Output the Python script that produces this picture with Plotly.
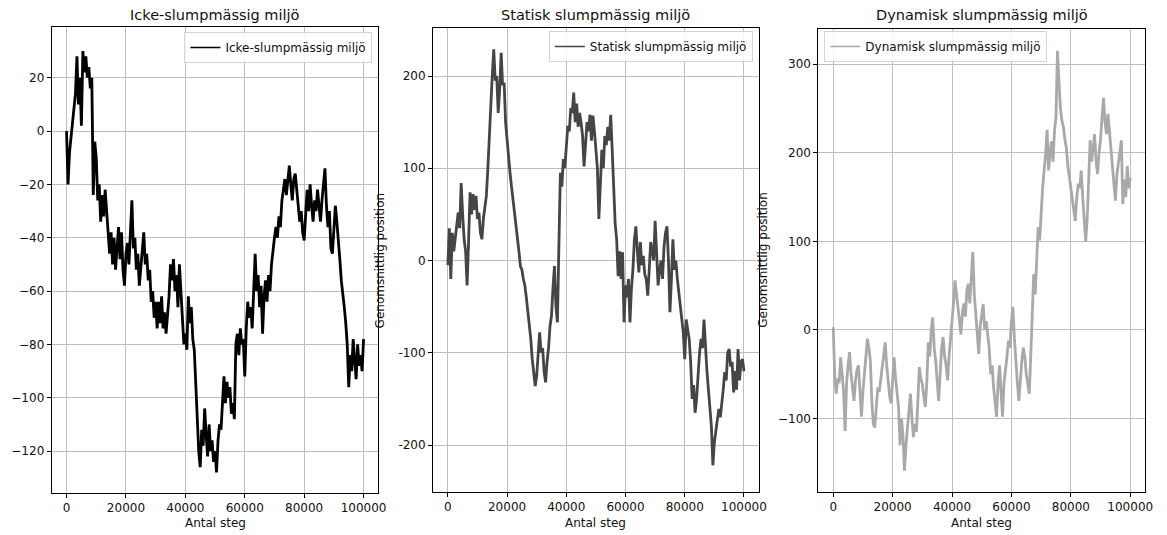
import plotly.graph_objects as go

steps = list(range(0, 100001, 500))

icke = [0, -20, -8, -2, 4, 8, 14, 28, 10, 20, 2, 30, 22, 28, 20, 24, 16, 20, -24, -4,
        -10, -26, -20, -34, -24, -32, -22, -30, -40, -46, -38, -50, -40, -52, -44, -36, -48, -38, -52, -58,
        -46, -42, -50, -34, -26, -44, -40, -52, -46, -58, -50, -44, -38, -50, -46, -56, -52, -64, -60, -70,
        -64, -74, -64, -72, -62, -74, -68, -76, -70, -62, -50, -56, -48, -60, -54, -66, -50, -62, -72, -80,
        -76, -82, -62, -72, -66, -78, -82, -96, -112, -120, -126, -112, -118, -104, -114, -122, -110, -120, -116, -124,
        -120, -128, -116, -110, -112, -104, -92, -102, -94, -100, -96, -106, -102, -108, -80, -76, -84, -74, -80, -78,
        -92, -74, -64, -70, -66, -74, -56, -46, -60, -54, -66, -58, -76, -62, -56, -64, -54, -60, -50, -44,
        -40, -36, -40, -32, -36, -26, -22, -18, -24, -18, -13, -20, -26, -18, -16, -22, -30, -34, -30, -38,
        -41, -30, -22, -30, -20, -28, -34, -26, -30, -22, -28, -34, -26, -20, -14, -28, -36, -30, -44, -46,
        -36, -28, -34, -40, -48, -56, -60, -66, -72, -80, -96, -84, -90, -78, -86, -93, -80, -88, -84, -90,
        -78]

statisk = [-5, 35, -20, 30, 10, 25, 40, 52, 35, 84, 50, 23, 10, -27, 20, 74, 50, 72, 55, 70,
           45, 52, 30, 23, 45, 59, 70, 99, 140, 167, 200, 229, 195, 200, 160, 185, 225, 190, 193, 150,
           131, 110, 95, 80, 66, 55, 40, 30, 10, -6, -10, -20, -27, -40, -55, -64, -85, -107, -120, -136,
           -125, -100, -78, -100, -95, -120, -132, -110, -95, -71, -60, -30, -6, -50, -67, 16, 95, 80, 110, 100,
           130, 146, 140, 165, 160, 182, 150, 170, 145, 160, 149, 135, 102, 130, 150, 140, 158, 130, 157, 140,
           120, 100, 45, 90, 120, 100, 135, 125, 145, 130, 158, 120, 84, 40, 23, -17, 10, -20, 9, -67,
           -27, -40, -20, -67, -30, -10, 23, 37, 10, -13, 20, -5, 5, -15, -20, -38, -10, 20, 10, 0,
           43, 0, -27, -10, 0, -20, 15, 30, 37, 0, -56, -20, 23, -10, 0, -20, -35, -50, -65, -78,
           -107, -64, -75, -85, -110, -150, -135, -165, -150, -120, -100, -85, -95, -64, -100, -120, -140, -157, -180, -222,
           -197, -185, -175, -161, -170, -150, -140, -121, -130, -100, -96, -115, -110, -143, -120, -140, -96, -130, -110, -107,
           -120]

dynamisk = [3, -50, -72, -55, -60, -31, -50, -70, -114, -60, -40, -25, -50, -65, -80, -57, -45, -40, -68, -98,
            -70, -50, -30, -10, -20, -35, -80, -106, -110, -90, -65, -70, -55, -46, -30, -14, -40, -60, -75, -83,
            -60, -31, -55, -75, -87, -130, -100, -120, -159, -130, -110, -90, -72, -100, -121, -106, -115, -80, -42, -55,
            -61, -75, -87, -60, -14, -30, 0, 14, -20, -35, -60, -80, -50, -20, -8, -30, -40, -57, -30, -10,
            0, 30, 56, 40, 30, 10, -5, 20, 30, 15, 45, 52, 30, 60, 88, 40, 20, -10, -27, 5,
            20, 29, 0, 10, -5, -20, -50, -40, -65, -80, -98, -60, -40, -70, -98, -60, -40, -30, -12, -20,
            10, 26, -10, -40, -60, -80, -50, -35, -20, -30, -50, -60, -72, -30, 14, 63, 40, 89, 116, 101,
            138, 160, 180, 198, 226, 180, 200, 213, 190, 225, 240, 315, 280, 250, 236, 229, 215, 205, 185, 172,
            160, 146, 135, 123, 150, 165, 160, 180, 150, 120, 100, 125, 180, 214, 190, 205, 221, 190, 176, 200,
            215, 240, 262, 235, 221, 244, 225, 198, 180, 165, 146, 175, 190, 200, 214, 142, 170, 150, 185, 160,
            172]

titles = ["Icke-slumpmässig miljö", "Statisk slumpmässig miljö", "Dynamisk slumpmässig miljö"]
colors = ["#000000", "#454545", "#a9a9a9"]
xticks = [0, 20000, 40000, 60000, 80000, 100000]
xticklabels = ["0", "20000", "40000", "60000", "80000", "100000"]
yticks = [[20, 0, -20, -40, -60, -80, -100, -120],
          [200, 100, 0, -100, -200],
          [300, 200, 100, 0, -100]]
yticklabels = [["20", "0", "\u221220", "\u221240", "\u221260", "\u221280", "\u2212100", "\u2212120"],
               ["200", "100", "0", "-100", "-200"],
               ["300", "200", "100", "0", "\u2212100"]]
ylabel = "Genomsnittlig position"
xlabel = "Antal steg"

# the page body adds an 8px margin: the figure is drawn from (8, 8)
OFF = 8
W, H = 1167 - OFF, 535 - OFF


def px(p):
    return (p - OFF) / W


def py(p):
    return 1 - (p - OFF) / H


# pixel geometry of plot areas in the reference (left, right, top, bottom)
boxes = [(52, 381, 27, 493), (436, 764, 28.3, 491.7), (824, 1153, 29, 491.7)]
yranges = [[-135.7, 39], [-250.6, 251.7], [-182.6, 339.7]]
series = [icke, statisk, dynamisk]

fig = go.Figure()
font = "DejaVu Sans"
annotations = []
for i in range(3):
    l, r, t, b = boxes[i]
    sx = "" if i == 0 else str(i + 1)
    fig.add_trace(go.Scatter(
        x=steps, y=series[i], mode="lines", name=titles[i],
        line=dict(color=colors[i], width=2.8),
        xaxis="x" + sx, yaxis="y" + sx, showlegend=False,
    ))
    # legend entry with the thinner line of the reference's legend
    fig.add_trace(go.Scatter(
        x=[None], y=[None], mode="lines", name=titles[i],
        line=dict(color=colors[i], width=1.6),
        xaxis="x" + sx, yaxis="y" + sx,
        legend="legend" + sx, showlegend=True, hoverinfo="skip",
    ))
    axcommon = dict(showline=True, mirror=True, linecolor="#000", linewidth=1,
                    ticks="outside", ticklen=4, tickcolor="#000", tickwidth=1,
                    showgrid=True, gridcolor="#bebebe", gridwidth=1, zeroline=False,
                    tickfont=dict(family=font, size=12, color="#111"))
    fig.update_layout(**{
        "xaxis" + sx: dict(domain=[px(l), px(r)], range=[-5000, 105000],
                           tickvals=xticks, ticktext=xticklabels,
                           anchor="y" + sx, **axcommon),
        "yaxis" + sx: dict(domain=[py(b), py(t)], range=yranges[i],
                           tickvals=yticks[i], ticktext=yticklabels[i],
                           anchor="x" + sx, **axcommon),
    })
    cx = (l + r) / 2
    annotations.append(dict(text=titles[i], x=px(cx), y=py(15), xref="paper", yref="paper",
                            xanchor="center", yanchor="middle", showarrow=False,
                            font=dict(family=font, size=14.5, color="#111")))
    annotations.append(dict(text=xlabel, x=px(cx), y=py(523), xref="paper", yref="paper",
                            xanchor="center", yanchor="middle", showarrow=False,
                            font=dict(family=font, size=12, color="#111")))

ylab_x = [-3, 383, 768]
for xc in ylab_x:
    annotations.append(dict(text=ylabel, x=px(xc), y=0.5 * (py(28) + py(492)),
                            xref="paper", yref="paper", xanchor="center", yanchor="middle",
                            textangle=-90, showarrow=False,
                            font=dict(family=font, size=12, color="#111")))

legcommon = dict(bgcolor="rgba(255,255,255,0.85)", bordercolor="#d4d4d4", borderwidth=1,
                 font=dict(family=font, size=12, color="#111"), yanchor="top",
                 tracegroupgap=0, itemwidth=30)
fig.update_layout(
    width=W, height=H, autosize=False,
    margin=dict(l=0, r=0, t=0, b=0),
    paper_bgcolor="white", plot_bgcolor="white",
    annotations=annotations,
    legend=dict(x=px(375), xanchor="right", y=py(32), **legcommon),
    legend2=dict(x=px(758), xanchor="right", y=py(31), **legcommon),
    legend3=dict(x=px(830), xanchor="left", y=py(31), **legcommon),
)

fig.write_html("out.html")
